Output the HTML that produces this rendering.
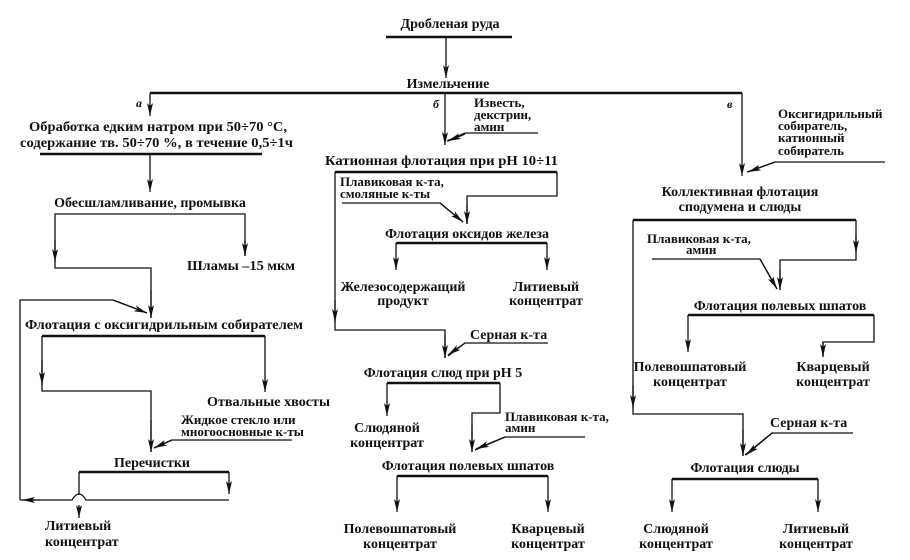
<!DOCTYPE html>
<html><head><meta charset="utf-8"><style>
html,body{margin:0;padding:0;background:#fff;}
svg{display:block;}
text{font-family:"Liberation Serif","DejaVu Serif",serif;font-weight:bold;font-size:14px;fill:#111;}
.s{font-size:13px;}
.i{font-style:italic;font-size:12px;}
</style></head><body>
<svg width="910" height="560" viewBox="0 0 910 560" xmlns="http://www.w3.org/2000/svg">
<defs>
<marker id="d" markerWidth="14" markerHeight="6" refX="13" refY="3" orient="auto" markerUnits="userSpaceOnUse">
<path d="M0,0 L13,3 L0,6 L3,3 Z" fill="#111"/>
</marker>
</defs>
<g stroke="#111" fill="none" stroke-width="1.3">
<line x1="386" y1="37" x2="512" y2="37" stroke-width="2.5"/>
<line x1="446" y1="37" x2="446" y2="78" marker-end="url(#d)"/>
<line x1="150" y1="93" x2="742" y2="93" stroke-width="2.5"/>
<line x1="150" y1="93" x2="150" y2="116" marker-end="url(#d)"/>
<line x1="445" y1="93" x2="445" y2="145" marker-end="url(#d)"/>
<line x1="742" y1="93" x2="742" y2="176" marker-end="url(#d)"/>
<line x1="40" y1="154" x2="262" y2="154" stroke-width="2.5"/>
<line x1="150" y1="154" x2="150" y2="192" marker-end="url(#d)"/>
<polyline points="245,256 245,214 55,214 55,268 151,268 151,318" />
<line x1="245" y1="240" x2="245" y2="256" marker-end="url(#d)"/>
<line x1="55" y1="240" x2="55" y2="262" marker-end="url(#d)"/>
<line x1="151" y1="290" x2="151" y2="318" marker-end="url(#d)"/>
<polyline points="20,500 20,300 113,300 147,313"/>
<line x1="113" y1="300" x2="147" y2="313" marker-end="url(#d)"/>
<polyline points="42,336 265,336" stroke-width="2.5"/>
<polyline points="42,336 42,391 151,391 151,452"/>
<line x1="42" y1="360" x2="42" y2="385" marker-end="url(#d)"/>
<line x1="265" y1="336" x2="265" y2="392" marker-end="url(#d)"/>
<polyline points="292,440 172,440 154,448"/>
<line x1="172" y1="440" x2="154" y2="448" marker-end="url(#d)"/>
<line x1="151" y1="420" x2="151" y2="452" marker-end="url(#d)"/>
<line x1="79" y1="472" x2="229" y2="472" stroke-width="2.5"/>
<line x1="79" y1="472" x2="79" y2="495"/>
<line x1="229" y1="472" x2="229" y2="494" marker-end="url(#d)"/>
<path d="M229,500 L86,500 Q79,488 72,500 L20,500"/>
<line x1="40" y1="500" x2="22" y2="500" marker-end="url(#d)"/>
<line x1="79" y1="505" x2="79" y2="518" marker-end="url(#d)"/>
<polyline points="538,133 465,133 447,141"/>
<line x1="465" y1="134" x2="448" y2="141" marker-end="url(#d)"/>
<line x1="335" y1="172" x2="557" y2="172" stroke-width="2.5"/>
<polyline points="557,172 557,196 467,196 467,224"/>
<line x1="467" y1="205" x2="467" y2="224" marker-end="url(#d)"/>
<polyline points="342,203 440,203 463,222"/>
<line x1="440" y1="203" x2="463" y2="222" marker-end="url(#d)"/>
<line x1="396" y1="243" x2="547" y2="243" stroke-width="2.5"/>
<line x1="396" y1="243" x2="396" y2="270" marker-end="url(#d)"/>
<line x1="547" y1="243" x2="547" y2="270" marker-end="url(#d)"/>
<polyline points="335,172 335,330 445,330 445,358"/>
<line x1="335" y1="300" x2="335" y2="322" marker-end="url(#d)"/>
<line x1="445" y1="335" x2="445" y2="358" marker-end="url(#d)"/>
<polyline points="548,343 465,343 448,356"/>
<line x1="465" y1="343" x2="448" y2="355" marker-end="url(#d)"/>
<line x1="387" y1="383" x2="500" y2="383" stroke-width="2.5"/>
<line x1="387" y1="383" x2="387" y2="416" marker-end="url(#d)"/>
<polyline points="500,383 500,413 472,413 472,452"/>
<line x1="472" y1="425" x2="472" y2="452" marker-end="url(#d)"/>
<polyline points="585,437 505,437 475,450"/>
<line x1="505" y1="437" x2="476" y2="449" marker-end="url(#d)"/>
<line x1="397" y1="476" x2="548" y2="476" stroke-width="2.5"/>
<line x1="397" y1="476" x2="397" y2="512" marker-end="url(#d)"/>
<line x1="548" y1="476" x2="548" y2="512" marker-end="url(#d)"/>
<polyline points="885,162 775,162 747,172"/>
<line x1="775" y1="162" x2="748" y2="172" marker-end="url(#d)"/>
<line x1="633" y1="220" x2="856" y2="220" stroke-width="2.5"/>
<polyline points="856,220 856,260 780,260 780,290"/>
<line x1="856" y1="235" x2="856" y2="253" marker-end="url(#d)"/>
<line x1="780" y1="270" x2="780" y2="290" marker-end="url(#d)"/>
<polyline points="652,259 760,259 777,289"/>
<line x1="760" y1="259" x2="777" y2="289" marker-end="url(#d)"/>
<line x1="688" y1="315" x2="874" y2="315" stroke-width="2.5"/>
<line x1="688" y1="315" x2="688" y2="352" marker-end="url(#d)"/>
<polyline points="874,315 874,342 823,342 823,356"/>
<line x1="823" y1="342" x2="823" y2="357" marker-end="url(#d)"/>
<polyline points="633,220 633,414 743,414 743,456"/>
<line x1="633" y1="385" x2="633" y2="408" marker-end="url(#d)"/>
<line x1="743" y1="430" x2="743" y2="456" marker-end="url(#d)"/>
<polyline points="853,433 772,433 745,455"/>
<line x1="772" y1="433" x2="746" y2="455" marker-end="url(#d)"/>
<line x1="672" y1="479" x2="818" y2="479" stroke-width="2.5"/>
<line x1="672" y1="479" x2="672" y2="512" marker-end="url(#d)"/>
<line x1="818" y1="479" x2="818" y2="512" marker-end="url(#d)"/>
</g>
<text x="450" y="28" text-anchor="middle">Дробленая руда</text>
<text x="448" y="88" text-anchor="middle">Измельчение</text>
<text x="136" y="107" class="i">а</text>
<text x="433" y="108" class="i">б</text>
<text x="727" y="108" class="i">в</text>
<text x="29" y="131" textLength="258" lengthAdjust="spacingAndGlyphs">Обработка едким натром при 50÷70 °С,</text>
<text x="20" y="147" textLength="273" lengthAdjust="spacingAndGlyphs">содержание тв. 50÷70 %, в течение 0,5÷1ч</text>
<text x="150" y="207" text-anchor="middle">Обесшламливание, промывка</text>
<text x="187" y="270" textLength="108" lengthAdjust="spacingAndGlyphs">Шламы –15 мкм</text>
<text x="25" y="329" textLength="278" lengthAdjust="spacingAndGlyphs">Флотация с оксигидрильным собирателем</text>
<text x="207" y="406" textLength="123" lengthAdjust="spacingAndGlyphs">Отвальные хвосты</text>
<text x="181" y="424" class="s">Жидкое стекло или</text>
<text x="181" y="436" class="s">многоосновные к-ты</text>
<text x="152" y="467" text-anchor="middle">Перечистки</text>
<text x="45" y="530">Литиевый</text>
<text x="45" y="546">концентрат</text>
<text x="474" y="107" class="s">Известь,</text>
<text x="474" y="119" class="s">декстрин,</text>
<text x="474" y="131" class="s">амин</text>
<text x="325" y="165" textLength="233" lengthAdjust="spacingAndGlyphs">Катионная флотация при рН 10÷11</text>
<text x="340" y="186" class="s">Плавиковая к-та,</text>
<text x="340" y="198" class="s">смоляные к-ты</text>
<text x="467" y="238" text-anchor="middle">Флотация оксидов железа</text>
<text x="403" y="291" text-anchor="middle">Железосодержащий</text>
<text x="403" y="305" text-anchor="middle">продукт</text>
<text x="546" y="291" text-anchor="middle">Литиевый</text>
<text x="546" y="305" text-anchor="middle">концентрат</text>
<text x="470" y="339">Серная к-та</text>
<text x="443" y="377" text-anchor="middle">Флотация слюд при рН 5</text>
<text x="387" y="432" text-anchor="middle">Слюдяной</text>
<text x="387" y="447" text-anchor="middle">концентрат</text>
<text x="505" y="421" class="s">Плавиковая к-та,</text>
<text x="505" y="432" class="s">амин</text>
<text x="468" y="470" text-anchor="middle">Флотация полевых шпатов</text>
<text x="400" y="533" text-anchor="middle">Полевошпатовый</text>
<text x="400" y="548" text-anchor="middle">концентрат</text>
<text x="548" y="533" text-anchor="middle">Кварцевый</text>
<text x="548" y="548" text-anchor="middle">концентрат</text>
<text x="778" y="118" class="s">Оксигидрильный</text>
<text x="778" y="130" class="s">собиратель,</text>
<text x="778" y="142" class="s">катионный</text>
<text x="778" y="155" class="s">собиратель</text>
<text x="740" y="196" text-anchor="middle">Коллективная флотация</text>
<text x="740" y="211" text-anchor="middle">сподумена и слюды</text>
<text x="647" y="243" class="s">Плавиковая к-та,</text>
<text x="686" y="254" class="s">амин</text>
<text x="780" y="310" text-anchor="middle">Флотация полевых шпатов</text>
<text x="690" y="371" text-anchor="middle">Полевошпатовый</text>
<text x="690" y="386" text-anchor="middle">концентрат</text>
<text x="833" y="371" text-anchor="middle">Кварцевый</text>
<text x="833" y="386" text-anchor="middle">концентрат</text>
<text x="770" y="427">Серная к-та</text>
<text x="745" y="472" text-anchor="middle">Флотация слюды</text>
<text x="676" y="533" text-anchor="middle">Слюдяной</text>
<text x="676" y="548" text-anchor="middle">концентрат</text>
<text x="816" y="533" text-anchor="middle">Литиевый</text>
<text x="816" y="548" text-anchor="middle">концентрат</text>
</svg>
</body></html>
